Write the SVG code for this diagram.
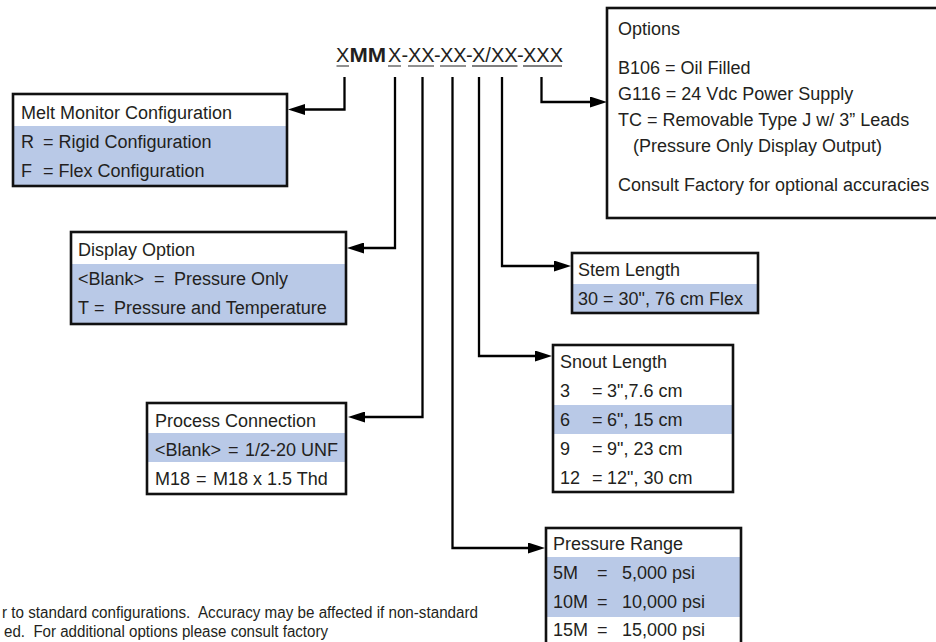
<svg xmlns="http://www.w3.org/2000/svg" width="936" height="642" viewBox="0 0 936 642">
<style>
  text { font-family: "Liberation Sans", Arial, sans-serif; fill: #231f20; }
  .t { font-size: 18px; }
  .code { font-size: 20px; }
  .note { font-size: 16px; }
  .frame { fill: none; stroke: #111; stroke-width: 2.6; }
  .hdr { fill: #ffffff; }
  .blue { fill: #b9c9e7; }
  .ul { stroke: #555; stroke-width: 1.3; }
  .conn { fill: none; stroke: #000; stroke-width: 2.3; }
</style>
<defs>
  <marker id="ah" viewBox="0 0 17 11" refX="9" refY="5.5" markerWidth="17" markerHeight="11" orient="auto" markerUnits="userSpaceOnUse">
    <path d="M0,0 L17,5.5 L0,11 z" fill="#000"/>
  </marker>
</defs>
<rect width="936" height="642" fill="#ffffff"/>

<g id="code">
  <text class="code" y="62"><tspan x="336">X</tspan><tspan x="388">X</tspan><tspan x="401.5">-</tspan><tspan x="408">XX</tspan><tspan x="434">-</tspan><tspan x="440">XX</tspan><tspan x="466">-</tspan><tspan x="472">X/XX</tspan><tspan x="517">-</tspan><tspan x="523">XXX</tspan></text>
  <text class="code" font-weight="bold" transform="translate(349.5,62) scale(1.1,1)" x="0" y="0">MM</text>
  <line class="ul" x1="336.5" y1="66" x2="349" y2="66"/>
  <line class="ul" x1="388" y1="66" x2="401" y2="66"/>
  <line class="ul" x1="408" y1="66" x2="434" y2="66"/>
  <line class="ul" x1="440" y1="66" x2="466" y2="66"/>
  <line class="ul" x1="472" y1="66" x2="517.5" y2="66"/>
  <line class="ul" x1="523" y1="66" x2="562" y2="66"/>
</g>

<g id="connectors">
  <path class="conn" d="M344.5,77 V109.5 H296" marker-end="url(#ah)"/>
  <path class="conn" d="M395,77 V248 H355" marker-end="url(#ah)"/>
  <path class="conn" d="M422.5,77 V417 H356" marker-end="url(#ah)"/>
  <path class="conn" d="M452.5,77 V548 H537" marker-end="url(#ah)"/>
  <path class="conn" d="M479,77 V356 H544" marker-end="url(#ah)"/>
  <path class="conn" d="M502,77 V266 H563" marker-end="url(#ah)"/>
  <path class="conn" d="M541.5,77 V102 H599" marker-end="url(#ah)"/>
</g>

<g id="melt-monitor">
  <rect class="hdr" x="13" y="94" width="274" height="32"/>
  <rect class="blue" x="13" y="126" width="274" height="60"/>
  <rect class="frame" x="13" y="94" width="274" height="92"/>
  <text class="t" x="21" y="119">Melt Monitor Configuration</text>
  <text class="t" y="148"><tspan x="21">R</tspan><tspan x="43">= Rigid Configuration</tspan></text>
  <text class="t" y="177"><tspan x="21">F</tspan><tspan x="43">= Flex Configuration</tspan></text>
</g>

<g id="display-option">
  <rect class="hdr" x="71" y="232" width="275" height="32"/>
  <rect class="blue" x="71" y="264" width="275" height="60"/>
  <rect class="frame" x="71" y="232" width="275" height="92"/>
  <text class="t" x="78" y="256">Display Option</text>
  <text class="t" y="285"><tspan x="78">&lt;Blank&gt;</tspan><tspan x="154">=</tspan><tspan x="174">Pressure Only</tspan></text>
  <text class="t" y="314"><tspan x="78">T</tspan><tspan x="94">=</tspan><tspan x="114">Pressure and Temperature</tspan></text>
</g>

<g id="process-connection">
  <rect class="hdr" x="147" y="403" width="199" height="91"/>
  <rect class="blue" x="147" y="433" width="199" height="29"/>
  <rect class="frame" x="147" y="403" width="199" height="91"/>
  <text class="t" x="155" y="427">Process Connection</text>
  <text class="t" y="456"><tspan x="155">&lt;Blank&gt;</tspan><tspan x="228">=</tspan><tspan x="245">1/2-20 UNF</tspan></text>
  <text class="t" y="485"><tspan x="155">M18</tspan><tspan x="196">=</tspan><tspan x="213">M18 x 1.5 Thd</tspan></text>
</g>

<g id="options">
  <rect x="607" y="8" width="340" height="210" fill="#ffffff" stroke="#111" stroke-width="2.6"/>
  <text class="t" x="618" y="35">Options</text>
  <text class="t" x="618" y="74">B106 = Oil Filled</text>
  <text class="t" x="618" y="100">G116 = 24 Vdc Power Supply</text>
  <text class="t" x="618" y="126">TC = Removable Type J w/ 3” Leads</text>
  <text class="t" x="633" y="152">(Pressure Only Display Output)</text>
  <text class="t" x="618" y="191">Consult Factory for optional accuracies</text>
</g>

<g id="stem-length">
  <rect class="hdr" x="572" y="253" width="186" height="31"/>
  <rect class="blue" x="572" y="284" width="186" height="29"/>
  <rect class="frame" x="572" y="253" width="186" height="60"/>
  <text class="t" x="578" y="276">Stem Length</text>
  <text class="t" x="578" y="305">30 = 30", 76 cm Flex</text>
</g>

<g id="snout-length">
  <rect class="hdr" x="553" y="345" width="180" height="147"/>
  <rect class="blue" x="553" y="405" width="180" height="29"/>
  <rect class="frame" x="553" y="345" width="180" height="147"/>
  <text class="t" x="560" y="368">Snout Length</text>
  <text class="t" y="397"><tspan x="560">3</tspan><tspan x="592">=</tspan><tspan x="607">3",7.6 cm</tspan></text>
  <text class="t" y="426"><tspan x="560">6</tspan><tspan x="592">=</tspan><tspan x="607">6", 15 cm</tspan></text>
  <text class="t" y="455"><tspan x="560">9</tspan><tspan x="592">=</tspan><tspan x="607">9", 23 cm</tspan></text>
  <text class="t" y="484"><tspan x="560">12</tspan><tspan x="592">=</tspan><tspan x="607">12", 30 cm</tspan></text>
</g>

<g id="pressure-range">
  <rect class="hdr" x="546" y="528" width="195" height="130"/>
  <rect class="blue" x="546" y="557" width="195" height="60"/>
  <rect class="frame" x="546" y="528" width="195" height="130"/>
  <text class="t" x="553" y="550">Pressure Range</text>
  <text class="t" y="579"><tspan x="553">5M</tspan><tspan x="597">=</tspan><tspan x="622">5,000 psi</tspan></text>
  <text class="t" y="608"><tspan x="553">10M</tspan><tspan x="597">=</tspan><tspan x="622">10,000 psi</tspan></text>
  <text class="t" y="636"><tspan x="553">15M</tspan><tspan x="597">=</tspan><tspan x="622">15,000 psi</tspan></text>
</g>

<g id="footnote">
  <text class="note" x="2" y="618" textLength="476" lengthAdjust="spacingAndGlyphs" xml:space="preserve">r to standard configurations.  Accuracy may be affected if non-standard</text>
  <text class="note" x="4" y="637" textLength="324" lengthAdjust="spacingAndGlyphs" xml:space="preserve">ed.  For additional options please consult factory</text>
</g>
</svg>
